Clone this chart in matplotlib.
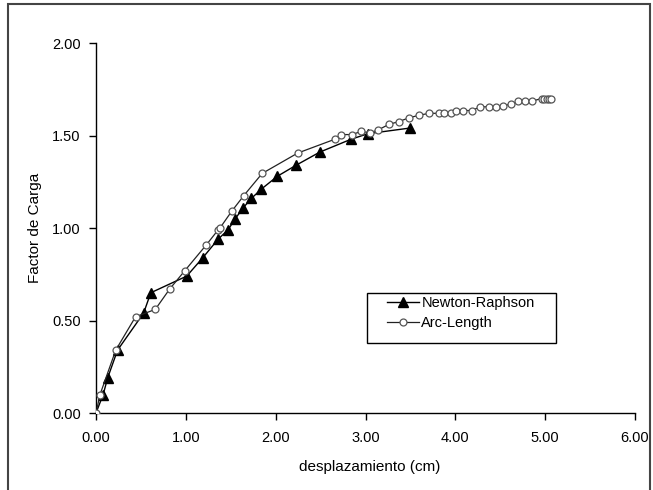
import matplotlib
matplotlib.use("Agg")
import matplotlib.pyplot as plt
from matplotlib.patches import Rectangle
from matplotlib.ticker import FormatStrFormatter

plt.rcParams['font.family'] = ['Liberation Sans', 'DejaVu Sans']

# Newton-Raphson solution path (displacement in cm, load factor)
nr_x = [0.00, 0.08, 0.13, 0.24, 0.53, 0.61, 1.01, 1.19, 1.36, 1.47, 1.55,
        1.64, 1.73, 1.84, 2.02, 2.23, 2.49, 2.84, 3.03, 3.49]
nr_y = [0.00, 0.10, 0.19, 0.34, 0.54, 0.65, 0.74, 0.84, 0.94, 0.99, 1.05,
        1.11, 1.16, 1.21, 1.28, 1.34, 1.41, 1.48, 1.51, 1.54]

# Arc-Length solution path
arc_x = [0.00, 0.045, 0.22, 0.44, 0.66, 0.82, 0.99, 1.23, 1.36, 1.38, 1.51,
         1.645, 1.85, 2.245, 2.66, 2.73, 2.85, 2.95, 3.05, 3.14, 3.26, 3.37,
         3.48, 3.60, 3.71, 3.82, 3.87, 3.95, 4.01, 4.09, 4.18, 4.28, 4.37,
         4.45, 4.53, 4.62, 4.70, 4.78, 4.85, 4.96, 4.99, 5.02, 5.04, 5.07]
arc_y = [0.00, 0.10, 0.34, 0.52, 0.56, 0.67, 0.77, 0.91, 0.99, 1.00, 1.09,
         1.175, 1.295, 1.405, 1.48, 1.505, 1.505, 1.522, 1.515, 1.53, 1.56,
         1.575, 1.595, 1.61, 1.62, 1.62, 1.62, 1.62, 1.63, 1.635, 1.635,
         1.655, 1.655, 1.655, 1.66, 1.67, 1.685, 1.685, 1.685, 1.70, 1.70,
         1.70, 1.70, 1.70]

x_ticks = [0, 1, 2, 3, 4, 5, 6]
y_ticks = [0.0, 0.5, 1.0, 1.5, 2.0]

W, H = 653, 490
fig = plt.figure(figsize=(W / 100, H / 100), dpi=100)
ax = fig.add_axes([96 / W, 1 - 413 / H, (635 - 96) / W, (413 - 43) / H])

ax.plot(nr_x, nr_y, color='black', lw=1.0, marker='^', markersize=6.5,
        markerfacecolor='black', markeredgecolor='black',
        label='Newton-Raphson', zorder=3)
ax.plot(arc_x, arc_y, color='#222222', lw=0.9, marker='o', markersize=5,
        markerfacecolor='white', markeredgecolor='#555555',
        markeredgewidth=0.9, label='Arc-Length', zorder=4)

ax.set_xlim(0, 6)
ax.set_ylim(0, 2)
ax.set_xticks(x_ticks)
ax.set_yticks(y_ticks)
ax.xaxis.set_major_formatter(FormatStrFormatter('%.2f'))
ax.yaxis.set_major_formatter(FormatStrFormatter('%.2f'))

for side in ('top', 'right'):
    ax.spines[side].set_visible(False)
for side in ('left', 'bottom'):
    ax.spines[side].set_linewidth(1.0)
    ax.spines[side].set_color('black')

ax.tick_params(axis='both', direction='out', length=5, width=1.0,
               labelsize=10.5, colors='black')
ax.tick_params(axis='x', pad=8)
ax.tick_params(axis='y', pad=6)

ax.set_xlabel('desplazamiento (cm)', fontsize=11)
ax.set_ylabel('Factor de Carga', fontsize=11)
ax.xaxis.set_label_coords((370 - 96) / (635 - 96), -(467 - 413) / (413 - 43))
ax.yaxis.set_label_coords(-(96 - 35) / (635 - 96), (413 - 228) / (413 - 43))
ax.xaxis.label.set_va('center')
ax.yaxis.label.set_va('center')

# legend entries, with a separate square box around them
leg = fig.legend(loc='upper left', bbox_to_anchor=(387 / W, 1 - 296 / H),
                 fontsize=10.5, frameon=False, handlelength=2.2,
                 handletextpad=0.15, borderpad=0, labelspacing=0.4,
                 borderaxespad=0)
fig.patches.append(Rectangle((367 / W, 1 - 343 / H), (556 - 367) / W,
                             (343 - 293) / H, transform=fig.transFigure,
                             fill=False, edgecolor='black', lw=1.0, zorder=5))

# outer chart border
fig.patches.append(Rectangle((8 / W, -0.05), (650 - 8) / W, 1.05 - 4 / H,
                             transform=fig.transFigure, fill=False,
                             edgecolor='#444444', lw=1.5, zorder=10))

fig.savefig('out.png', dpi=100)
